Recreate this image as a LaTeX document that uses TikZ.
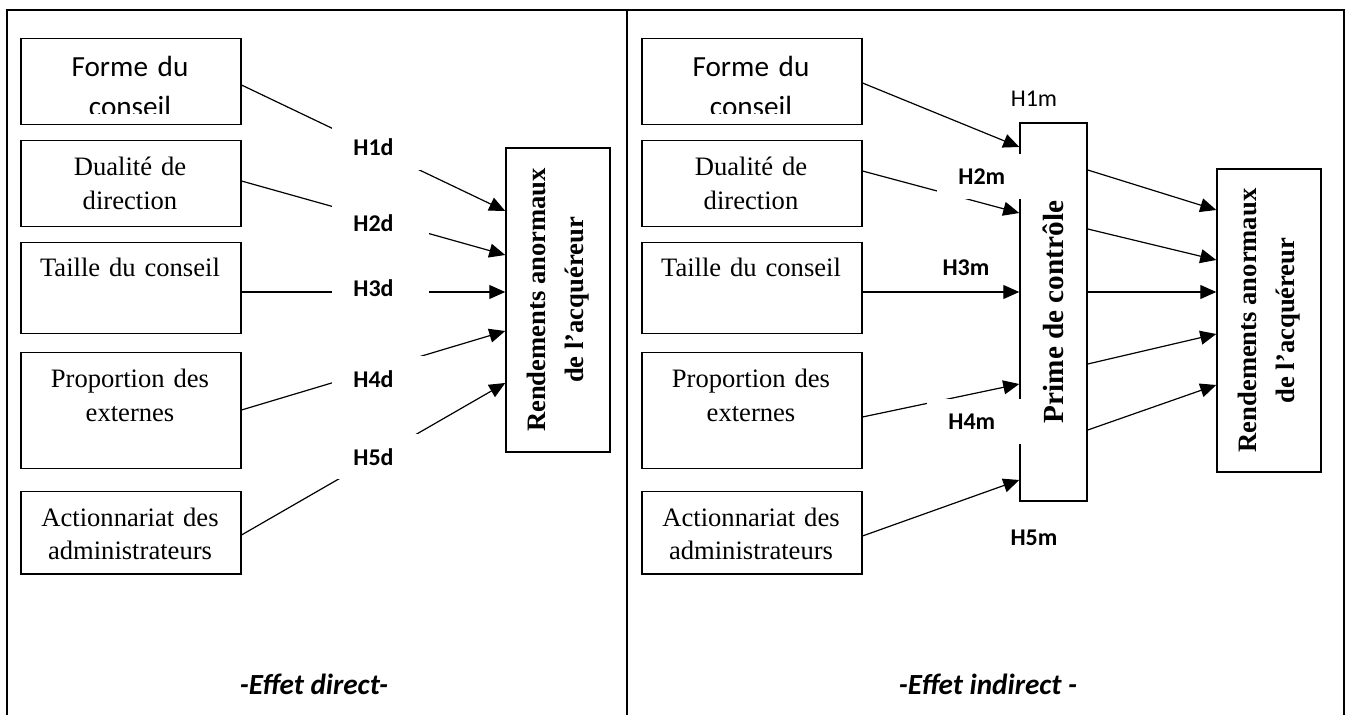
\documentclass[tikz,border=0pt]{standalone}
\usepackage{fontspec}
\setmainfont{Liberation Serif}
\newfontfamily\calibri{Carlito}
\usetikzlibrary{arrows.meta}

\begin{document}
\begin{tikzpicture}[x=0.5pt,y=-0.5pt,>={Triangle[length=8pt,width=7pt]}]
  \tikzstyle{cadre}=[line width=1pt]
  \tikzstyle{var}=[draw,line width=0.75pt,anchor=north west,minimum width=110pt,inner sep=0pt]
  \tikzstyle{txt}=[anchor=base,text width=105pt,align=center,inner sep=0pt,font=\fontsize{13.3}{17}\selectfont]
  \tikzstyle{dep}=[draw,line width=0.75pt,rotate=90,align=center,inner sep=0pt,font=\fontsize{13.3}{19}\selectfont\bfseries]
  \tikzstyle{fl}=[->,line width=0.6pt]
  \tikzstyle{hyp}=[fill=white,anchor=west,inner xsep=10.5pt,inner ysep=0pt,text width=27.5pt,minimum height=22.5pt,align=left,font=\calibri\fontsize{12}{14}\selectfont\bfseries]
  \tikzstyle{hlab}=[inner sep=0pt,font=\calibri\fontsize{12}{14}\selectfont\bfseries]
  \tikzstyle{effet}=[anchor=base,font=\calibri\fontsize{14.6}{17}\selectfont\bfseries\itshape]

  \useasboundingbox (0,0) rectangle (1348,715);
  \draw[cadre] (7,715) -- (7,10) -- (1344,10) -- (1344,715);
  \draw[cadre] (627,10) -- (627,715);

  % effet direct
  \node[var,minimum height=43pt] (f1) at (20,38) {};
  \node[var,minimum height=43pt] (f2) at (20,140) {};
  \node[var,minimum height=45.5pt] (f3) at (20,242) {};
  \node[var,minimum height=58pt] (f4) at (20,352) {};
  \node[var,minimum height=41pt] (f5) at (20,491) {};
  \begin{scope}
    \clip (20,38) rectangle (240,114);
    \node[txt,font=\calibri\fontsize{14.6}{20}\selectfont] (t1) at (130,77) {Forme du\\conseil};
  \end{scope}
  \node[txt] (t2) at (130,176) {Dualité de\\direction};
  \node[txt] (t3) at (130,277) {Taille du conseil};
  \node[txt] (t4) at (130,388) {Proportion des\\externes};
  \node[txt] (t5) at (130,526) {Actionnariat des\\administrateurs};

  \node[dep,minimum width=152pt,minimum height=52pt] (ra) at (558,300) {Rendements anormaux\\de l’acquéreur};

  \draw[fl] (f1.east |- 0,85) -- (ra.north |- 0,211);
  \draw[fl] (f2.east |- 0,181) -- (ra.north |- 0,255);
  \draw[fl] (f3.east |- 0,292) -- (ra.north |- 0,292);
  \draw[fl] (f4.east |- 0,410) -- (ra.north |- 0,331);
  \draw[fl] (f5.east |- 0,535) -- (ra.north |- 0,383);

  \node[hyp] (h1d) at (332,147.5) {H1d};
  \node[hyp] (h2d) at (332,223) {H2d};
  \node[hyp] (h3d) at (332,288) {H3d};
  \node[hyp] (h4d) at (332,379) {H4d};
  \node[hyp] (h5d) at (332,457) {H5d};

  \node[effet] (e1) at (314,694) {-Effet direct-};

  % effet indirect
  \node[var,minimum height=43pt] (g1) at (641,38) {};
  \node[var,minimum height=43pt] (g2) at (641,140) {};
  \node[var,minimum height=45.5pt] (g3) at (641,242) {};
  \node[var,minimum height=58pt] (g4) at (641,352) {};
  \node[var,minimum height=41pt] (g5) at (641,491) {};
  \begin{scope}
    \clip (641,38) rectangle (861,114);
    \node[txt,font=\calibri\fontsize{14.6}{20}\selectfont] (u1) at (751,77) {Forme du\\conseil};
  \end{scope}
  \node[txt] (u2) at (751,176) {Dualité de\\direction};
  \node[txt] (u3) at (751,277) {Taille du conseil};
  \node[txt] (u4) at (751,388) {Proportion des\\externes};
  \node[txt] (u5) at (751,526) {Actionnariat des\\administrateurs};

  \node[dep,font=\fontsize{14.6}{17}\selectfont\bfseries,minimum width=189pt,minimum height=33.5pt] (pc) at (1053.5,312) {Prime de contrôle};
  \node[dep,minimum width=151.5pt,minimum height=52pt] (rb) at (1269,320.5) {Rendements anormaux\\de l’acquéreur};

  \draw[fl] (g1.east |- 0,83) -- (pc.north |- 0,147);
  \draw[fl] (g2.east |- 0,171) -- (pc.north |- 0,213);
  \draw[fl] (g3.east |- 0,292) -- (pc.north |- 0,292);
  \draw[fl] (g4.east |- 0,417) -- (pc.north |- 0,384);
  \draw[fl] (g5.east |- 0,536) -- (pc.north |- 0,480);

  \draw[fl] (pc.south |- 0,170) -- (rb.north |- 0,210);
  \draw[fl] (pc.south |- 0,229) -- (rb.north |- 0,260);
  \draw[fl] (pc.south |- 0,292) -- (rb.north |- 0,292);
  \draw[fl] (pc.south |- 0,364) -- (rb.north |- 0,334);
  \draw[fl] (pc.south |- 0,430) -- (rb.north |- 0,385);

  \node[hlab,font=\calibri\fontsize{12}{14}\selectfont] (h1m) at (1034,99) {H1m};
  \node[hyp] (h2m) at (937,177) {H2m};
  \node[hlab] (h3m) at (966,268) {H3m};
  \node[hyp] (h4m) at (927,422) {H4m};
  \node[hlab] (h5m) at (1034,538) {H5m};

  \node[effet] (e2) at (988,694) {-Effet indirect -};
\end{tikzpicture}
\end{document}
